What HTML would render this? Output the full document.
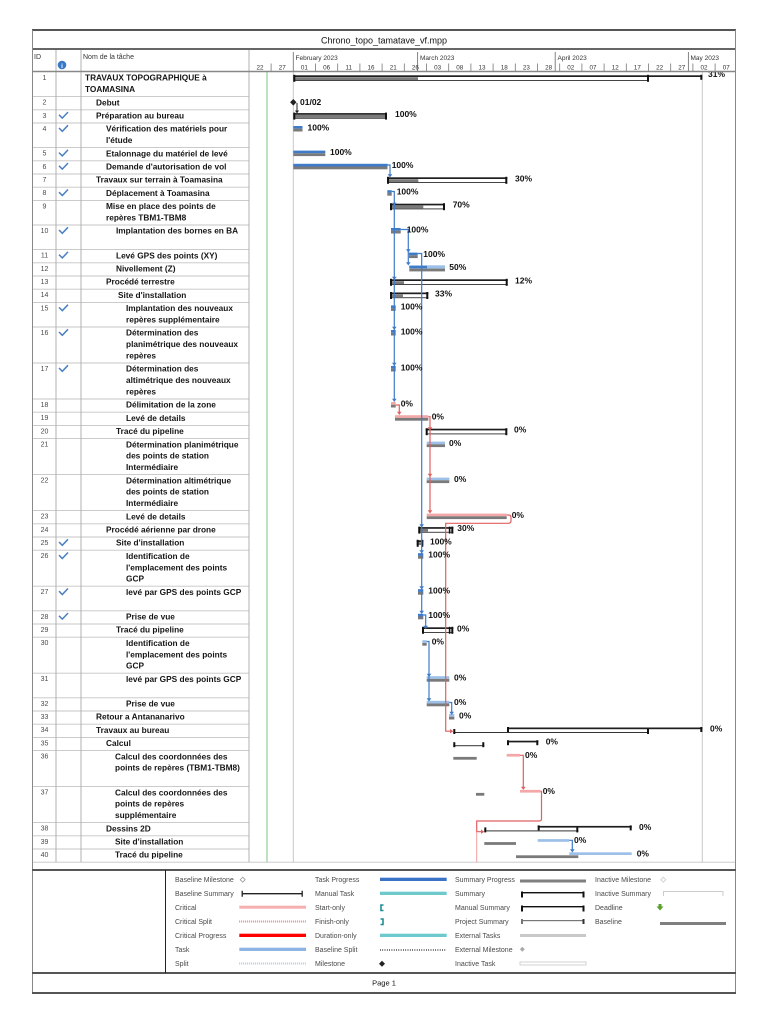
<!DOCTYPE html>
<html><head><meta charset="utf-8"><title>Chrono_topo_tamatave_vf.mpp</title>
<style>
html,body{margin:0;padding:0;background:#fff;}
svg{display:block;}
text{font-family:"Liberation Sans",Arial,sans-serif;}
.id{font-size:7px;fill:#4a4a4a;text-anchor:middle;}
.nm{font-size:8.3px;font-weight:bold;fill:#151515;}
.pc{font-size:8.5px;font-weight:bold;fill:#111;}
.lg{font-size:7px;fill:#4a4a4a;}
.dl{font-size:6.3px;fill:#333;text-anchor:middle;}
.ml{font-size:6.5px;fill:#333;}
</style></head>
<body>
<svg width="768" height="1024" viewBox="0 0 768 1024" xmlns="http://www.w3.org/2000/svg">
<rect width="768" height="1024" fill="#fff"/>

<!-- gantt vertical lines -->
<line x1="267" y1="72" x2="267" y2="862" stroke="#7cc47c" stroke-width="1"/>
<line x1="293.3" y1="72" x2="293.3" y2="862" stroke="#c8c8c8" stroke-width="1"/>
<line x1="702.3" y1="72" x2="702.3" y2="862" stroke="#c8c8c8" stroke-width="1"/>

<!-- table row separators -->
<path d="M33,96.6H249M33,109.8H249M33,123H249M33,147.6H249M33,160.8H249M33,174H249M33,187.2H249M33,200.4H249M33,225H249M33,249.6H249M33,262.8H249M33,276H249M33,289.2H249M33,302.4H249M33,327H249M33,363H249M33,399H249M33,412.2H249M33,425.4H249M33,438.6H249M33,474.6H249M33,510.6H249M33,523.8H249M33,537H249M33,550.2H249M33,586.2H249M33,610.8H249M33,624H249M33,637.2H249M33,673.2H249M33,697.8H249M33,711H249M33,724.2H249M33,737.4H249M33,750.6H249M33,786.6H249M33,822.6H249M33,835.8H249M33,849H249M33,862.2H735" stroke="#c4c4c4" stroke-width="0.9" fill="none"/>
<path d="M56,49V862M81,49V862M249,49V862" stroke="#b0b0b0" stroke-width="1" fill="none"/>

<!-- frame -->
<line x1="32" y1="30" x2="736" y2="30" stroke="#555" stroke-width="2"/>
<line x1="32" y1="49" x2="736" y2="49" stroke="#666" stroke-width="2"/>
<line x1="32.5" y1="30" x2="32.5" y2="993" stroke="#888" stroke-width="1"/>
<line x1="735.5" y1="30" x2="735.5" y2="993" stroke="#888" stroke-width="1"/>
<line x1="32" y1="870" x2="736" y2="870" stroke="#555" stroke-width="2"/>
<line x1="32" y1="973" x2="736" y2="973" stroke="#555" stroke-width="2"/>
<line x1="32" y1="993" x2="736" y2="993" stroke="#555" stroke-width="2"/>
<line x1="165.5" y1="870" x2="165.5" y2="973" stroke="#222" stroke-width="1"/>

<!-- title -->
<text x="384" y="43.5" font-size="9" text-anchor="middle" fill="#111">Chrono_topo_tamatave_vf.mpp</text>

<!-- header -->
<text x="34" y="59" font-size="7" fill="#333">ID</text>
<circle cx="62" cy="65" r="4.3" fill="#3778c7"/>
<text x="62" y="67.8" font-size="6.5" font-weight="bold" fill="#fff" text-anchor="middle">i</text>
<text x="83" y="59" font-size="7" fill="#333">Nom de la tâche</text>

<text class="ml" x="295.5" y="60">February 2023</text>
<text class="ml" x="420" y="60">March 2023</text>
<text class="ml" x="557.5" y="60">April 2023</text>
<text class="ml" x="690.5" y="60">May 2023</text>
<path d="M293.3,52V71M417.6,52V71M555.2,52V71M688.4,52V71" stroke="#777" stroke-width="0.9"/>
<path d="M271.1,63.5V71M315.5,63.5V71M337.7,63.5V71M359.9,63.5V71M382.1,63.5V71M404.3,63.5V71M426.5,63.5V71M448.7,63.5V71M470.9,63.5V71M493.1,63.5V71M515.3,63.5V71M537.5,63.5V71M559.7,63.5V71M581.9,63.5V71M604.1,63.5V71M626.3,63.5V71M648.5,63.5V71M670.7,63.5V71M692.9,63.5V71M715.1,63.5V71" stroke="#777" stroke-width="0.8"/>
<text class="dl" x="260" y="69.5">22</text>
<text class="dl" x="282.2" y="69.5">27</text>
<text class="dl" x="304.4" y="69.5">01</text>
<text class="dl" x="326.6" y="69.5">06</text>
<text class="dl" x="348.8" y="69.5">11</text>
<text class="dl" x="371" y="69.5">16</text>
<text class="dl" x="393.2" y="69.5">21</text>
<text class="dl" x="415.4" y="69.5">26</text>
<text class="dl" x="437.6" y="69.5">03</text>
<text class="dl" x="459.8" y="69.5">08</text>
<text class="dl" x="482" y="69.5">13</text>
<text class="dl" x="504.2" y="69.5">18</text>
<text class="dl" x="526.4" y="69.5">23</text>
<text class="dl" x="548.6" y="69.5">28</text>
<text class="dl" x="570.8" y="69.5">02</text>
<text class="dl" x="593" y="69.5">07</text>
<text class="dl" x="615.2" y="69.5">12</text>
<text class="dl" x="637.4" y="69.5">17</text>
<text class="dl" x="659.6" y="69.5">22</text>
<text class="dl" x="681.8" y="69.5">27</text>
<text class="dl" x="704" y="69.5">02</text>
<text class="dl" x="726.2" y="69.5">07</text>

<!-- IDs -->
<text class="id" x="44.5" y="80">1</text>
<text class="id" x="44.5" y="104.6">2</text>
<text class="id" x="44.5" y="117.8">3</text>
<text class="id" x="44.5" y="131">4</text>
<text class="id" x="44.5" y="155.6">5</text>
<text class="id" x="44.5" y="168.8">6</text>
<text class="id" x="44.5" y="182">7</text>
<text class="id" x="44.5" y="195.2">8</text>
<text class="id" x="44.5" y="208.4">9</text>
<text class="id" x="44.5" y="233">10</text>
<text class="id" x="44.5" y="257.6">11</text>
<text class="id" x="44.5" y="270.8">12</text>
<text class="id" x="44.5" y="284">13</text>
<text class="id" x="44.5" y="297.2">14</text>
<text class="id" x="44.5" y="310.4">15</text>
<text class="id" x="44.5" y="335">16</text>
<text class="id" x="44.5" y="371">17</text>
<text class="id" x="44.5" y="407">18</text>
<text class="id" x="44.5" y="420.2">19</text>
<text class="id" x="44.5" y="433.4">20</text>
<text class="id" x="44.5" y="446.6">21</text>
<text class="id" x="44.5" y="482.6">22</text>
<text class="id" x="44.5" y="518.6">23</text>
<text class="id" x="44.5" y="531.8">24</text>
<text class="id" x="44.5" y="545">25</text>
<text class="id" x="44.5" y="558.2">26</text>
<text class="id" x="44.5" y="594.2">27</text>
<text class="id" x="44.5" y="618.8">28</text>
<text class="id" x="44.5" y="632">29</text>
<text class="id" x="44.5" y="645.2">30</text>
<text class="id" x="44.5" y="681.2">31</text>
<text class="id" x="44.5" y="705.8">32</text>
<text class="id" x="44.5" y="719">33</text>
<text class="id" x="44.5" y="732.2">34</text>
<text class="id" x="44.5" y="745.4">35</text>
<text class="id" x="44.5" y="758.6">36</text>
<text class="id" x="44.5" y="794.6">37</text>
<text class="id" x="44.5" y="830.6">38</text>
<text class="id" x="44.5" y="843.8">39</text>
<text class="id" x="44.5" y="857">40</text>

<!-- check marks -->
<path d="M59,114.8L62.3,118.1L68,112.1M59,128L62.3,131.3L68,125.3M59,152.6L62.3,155.9L68,149.9M59,165.8L62.3,169.1L68,163.1M59,192.2L62.3,195.5L68,189.5M59,230L62.3,233.3L68,227.3M59,254.6L62.3,257.9L68,251.9M59,307.4L62.3,310.7L68,304.7M59,332L62.3,335.3L68,329.3M59,368L62.3,371.3L68,365.3M59,542L62.3,545.3L68,539.3M59,555.2L62.3,558.5L68,552.5M59,591.2L62.3,594.5L68,588.5M59,615.8L62.3,619.1L68,613.1" stroke="#4a7fc1" stroke-width="1.5" fill="none"/>

<!-- names -->
<text class="nm" x="85" y="80.7">TRAVAUX TOPOGRAPHIQUE à</text>
<text class="nm" x="85" y="92.1">TOAMASINA</text>
<text class="nm" x="96" y="105.3">Debut</text>
<text class="nm" x="96" y="118.5">Préparation au bureau</text>
<text class="nm" x="106" y="131.7">Vérification des matériels pour</text>
<text class="nm" x="106" y="143.1">l'étude</text>
<text class="nm" x="106" y="156.3">Etalonnage du matériel de levé</text>
<text class="nm" x="106" y="169.5">Demande d'autorisation de vol</text>
<text class="nm" x="96" y="182.7">Travaux sur terrain à Toamasina</text>
<text class="nm" x="106" y="195.9">Déplacement à Toamasina</text>
<text class="nm" x="106" y="209.1">Mise en place des points de</text>
<text class="nm" x="106" y="220.5">repères TBM1-TBM8</text>
<text class="nm" x="116" y="233.7">Implantation des bornes en BA</text>
<text class="nm" x="116" y="258.3">Levé GPS des points (XY)</text>
<text class="nm" x="116" y="271.5">Nivellement (Z)</text>
<text class="nm" x="106" y="284.7">Procédé terrestre</text>
<text class="nm" x="118" y="297.9">Site d'installation</text>
<text class="nm" x="126" y="311.1">Implantation des nouveaux</text>
<text class="nm" x="126" y="322.5">repères supplémentaire</text>
<text class="nm" x="126" y="335.7">Détermination des</text>
<text class="nm" x="126" y="347.1">planimétrique des nouveaux</text>
<text class="nm" x="126" y="358.5">repères</text>
<text class="nm" x="126" y="371.7">Détermination des</text>
<text class="nm" x="126" y="383.1">altimétrique des nouveaux</text>
<text class="nm" x="126" y="394.5">repères</text>
<text class="nm" x="126" y="407.7">Délimitation de la zone</text>
<text class="nm" x="126" y="420.9">Levé de details</text>
<text class="nm" x="116" y="434.1">Tracé du pipeline</text>
<text class="nm" x="126" y="447.3">Détermination planimétrique</text>
<text class="nm" x="126" y="458.7">des points de station</text>
<text class="nm" x="126" y="470.1">Intermédiaire</text>
<text class="nm" x="126" y="483.3">Détermination altimétrique</text>
<text class="nm" x="126" y="494.7">des points de station</text>
<text class="nm" x="126" y="506.1">Intermédiaire</text>
<text class="nm" x="126" y="519.3">Levé de details</text>
<text class="nm" x="106" y="532.5">Procédé aérienne par drone</text>
<text class="nm" x="116" y="545.7">Site d'installation</text>
<text class="nm" x="126" y="558.9">Identification de</text>
<text class="nm" x="126" y="570.3">l'emplacement des points</text>
<text class="nm" x="126" y="581.7">GCP</text>
<text class="nm" x="126" y="594.9">levé par GPS des points GCP</text>
<text class="nm" x="126" y="619.5">Prise de vue</text>
<text class="nm" x="116" y="632.7">Tracé du pipeline</text>
<text class="nm" x="126" y="645.9">Identification de</text>
<text class="nm" x="126" y="657.3">l'emplacement des points</text>
<text class="nm" x="126" y="668.7">GCP</text>
<text class="nm" x="126" y="681.9">levé par GPS des points GCP</text>
<text class="nm" x="126" y="706.5">Prise de vue</text>
<text class="nm" x="96" y="719.7">Retour a Antananarivo</text>
<text class="nm" x="96" y="732.9">Travaux au bureau</text>
<text class="nm" x="106" y="746.1">Calcul</text>
<text class="nm" x="115" y="759.3">Calcul des coordonnées des</text>
<text class="nm" x="115" y="770.7">points de repères (TBM1-TBM8)</text>
<text class="nm" x="115" y="795.3">Calcul des coordonnées des</text>
<text class="nm" x="115" y="806.7">points de repères</text>
<text class="nm" x="115" y="818.1">supplémentaire</text>
<text class="nm" x="106" y="831.3">Dessins  2D</text>
<text class="nm" x="115" y="844.5">Site d'installation</text>
<text class="nm" x="115" y="857.7">Tracé du pipeline</text>

<!-- ===== BARS ===== -->
<!-- row 1 -->
<rect x="293.3" y="75.3" width="408.7" height="1.7" fill="#1e1e1e"/>
<rect x="293.3" y="80" width="355.7" height="1" fill="#444"/>
<rect x="293.3" y="77.2" width="124.7" height="2.8" fill="#7a7a7a"/>
<rect x="293.3" y="74.8" width="2" height="7" fill="#111"/>
<rect x="647" y="74.8" width="2" height="7" fill="#111"/>
<rect x="700.3" y="74.8" width="2" height="5" fill="#111"/>
<!-- row 2 milestone -->
<polygon points="293.3,99 296.5,102.3 293.3,105.6 290.1,102.3" fill="#222"/>
<text class="pc" x="300" y="105">01/02</text>
<path d="M297,103V111" stroke="#222" stroke-width="1"/>
<polygon points="295,110.5 299,110.5 297,113.5" fill="#222"/>
<!-- row 3 -->
<rect x="293.3" y="113.1" width="93.7" height="1.7" fill="#1e1e1e"/>
<rect x="293.3" y="115" width="93.7" height="2.8" fill="#7a7a7a"/>
<rect x="293.3" y="117.8" width="93.7" height="1" fill="#444"/>
<rect x="293.3" y="112.6" width="2" height="7" fill="#111"/>
<rect x="385" y="112.6" width="2" height="7" fill="#111"/>
<!-- row 4,5,6 tasks done -->
<rect x="293.3" y="126" width="9.2" height="2.7" fill="#3e7bc8"/><rect x="293.3" y="128.7" width="9.2" height="2.8" fill="#7a7a7a"/>
<rect x="293.3" y="150.6" width="32" height="2.7" fill="#3e7bc8"/><rect x="293.3" y="153.3" width="32" height="2.8" fill="#7a7a7a"/>
<rect x="293.3" y="163.8" width="94.2" height="2.7" fill="#3e7bc8"/><rect x="293.3" y="166.5" width="94.2" height="2.8" fill="#7a7a7a"/>
<!-- row 7 -->
<rect x="387" y="177.3" width="120.3" height="1.7" fill="#1e1e1e"/>
<rect x="387" y="182" width="120.3" height="1" fill="#444"/>
<rect x="387" y="179.2" width="31.3" height="2.8" fill="#7a7a7a"/>
<rect x="387" y="176.8" width="2" height="7" fill="#111"/><rect x="505.3" y="176.8" width="2" height="7" fill="#111"/>
<!-- row 8 -->
<rect x="387.3" y="190.2" width="4.4" height="2.7" fill="#3e7bc8"/><rect x="387.3" y="192.9" width="4.4" height="2.8" fill="#7a7a7a"/>
<!-- row 9 -->
<rect x="390" y="203.7" width="55" height="1.7" fill="#1e1e1e"/>
<rect x="390" y="208.4" width="55" height="1" fill="#444"/>
<rect x="390" y="205.6" width="33.3" height="2.8" fill="#7a7a7a"/>
<rect x="390" y="203.2" width="2" height="7" fill="#111"/><rect x="443" y="203.2" width="2" height="7" fill="#111"/>
<!-- row 10 -->
<rect x="391" y="228" width="9.7" height="2.7" fill="#3e7bc8"/><rect x="391" y="230.7" width="9.7" height="2.8" fill="#7a7a7a"/>
<!-- row 11 -->
<rect x="409" y="252.6" width="8.7" height="2.7" fill="#3e7bc8"/><rect x="409" y="255.3" width="8.7" height="2.8" fill="#7a7a7a"/>
<!-- row 12 -->
<rect x="409.3" y="265.3" width="35.7" height="3.3" fill="#9dc0e8"/>
<rect x="409.3" y="265.8" width="17.7" height="2.5" fill="#3e7bc8"/>
<rect x="409.3" y="268.6" width="35.7" height="2.8" fill="#7a7a7a"/>
<!-- row 13 -->
<rect x="390" y="279.3" width="117.7" height="1.7" fill="#1e1e1e"/>
<rect x="390" y="284" width="117.7" height="1" fill="#444"/>
<rect x="390" y="281.2" width="14" height="2.8" fill="#7a7a7a"/>
<rect x="390" y="278.8" width="2" height="7" fill="#111"/><rect x="505.7" y="278.8" width="2" height="7" fill="#111"/>
<!-- row 14 -->
<rect x="390" y="292.5" width="38.3" height="1.7" fill="#1e1e1e"/>
<rect x="390" y="297.2" width="38.3" height="1" fill="#444"/>
<rect x="390" y="294.4" width="13" height="2.8" fill="#7a7a7a"/>
<rect x="390" y="292" width="2" height="7" fill="#111"/><rect x="426.3" y="292" width="2" height="7" fill="#111"/>
<!-- rows 15-17 -->
<rect x="391" y="305.4" width="4.7" height="2.7" fill="#3e7bc8"/><rect x="391" y="308.1" width="4.7" height="2.8" fill="#7a7a7a"/>
<rect x="391" y="330" width="4.7" height="2.7" fill="#3e7bc8"/><rect x="391" y="332.7" width="4.7" height="2.8" fill="#7a7a7a"/>
<rect x="391" y="366" width="4.7" height="2.7" fill="#3e7bc8"/><rect x="391" y="368.7" width="4.7" height="2.8" fill="#7a7a7a"/>
<!-- row 18 -->
<rect x="391" y="402" width="4.7" height="2.7" fill="#f4a7a7"/><rect x="391" y="404.7" width="4.7" height="2.8" fill="#7a7a7a"/>
<!-- row 19 -->
<rect x="395" y="415.2" width="33.3" height="2.7" fill="#f4a7a7"/><rect x="395" y="417.9" width="33.3" height="2.8" fill="#7a7a7a"/>
<!-- row 20 -->
<rect x="425.7" y="428.7" width="81.6" height="1.7" fill="#1e1e1e"/>
<rect x="425.7" y="433.4" width="81.6" height="1" fill="#444"/>
<rect x="425.7" y="428.2" width="2" height="7" fill="#111"/><rect x="505.3" y="428.2" width="2" height="7" fill="#111"/>
<!-- row 21, 22 -->
<rect x="426.7" y="441.6" width="18.3" height="2.7" fill="#9dc0e8"/><rect x="426.7" y="444.3" width="18.3" height="2.8" fill="#7a7a7a"/>
<rect x="426.7" y="477.6" width="22.6" height="2.7" fill="#9dc0e8"/><rect x="426.7" y="480.3" width="22.6" height="2.8" fill="#7a7a7a"/>
<!-- row 23 -->
<rect x="426.7" y="513.6" width="80" height="2.7" fill="#f4a7a7"/><rect x="426.7" y="516.3" width="80" height="2.8" fill="#7a7a7a"/>
<!-- row 24 -->
<rect x="418.3" y="527.1" width="35" height="1.7" fill="#1e1e1e"/>
<rect x="418.3" y="531.8" width="35" height="1" fill="#444"/>
<rect x="418.3" y="529" width="9.7" height="2.8" fill="#7a7a7a"/>
<rect x="418.3" y="526.6" width="2" height="7" fill="#111"/><rect x="448.8" y="526.6" width="1.6" height="7" fill="#111"/><rect x="451.3" y="526.6" width="2" height="7" fill="#111"/>
<!-- row 25 -->
<rect x="416.7" y="540.3" width="6.6" height="1.7" fill="#1e1e1e"/>
<rect x="416.7" y="542.2" width="6.6" height="2.8" fill="#7a7a7a"/>
<rect x="416.7" y="539.8" width="2" height="7" fill="#111"/><rect x="421.3" y="539.8" width="2" height="7" fill="#111"/>
<!-- rows 26-28 -->
<rect x="418" y="553.2" width="5.3" height="2.7" fill="#3e7bc8"/><rect x="418" y="555.9" width="5.3" height="2.8" fill="#7a7a7a"/>
<rect x="418" y="589.2" width="5.3" height="2.7" fill="#3e7bc8"/><rect x="418" y="591.9" width="5.3" height="2.8" fill="#7a7a7a"/>
<rect x="418" y="613.8" width="5.3" height="2.7" fill="#3e7bc8"/><rect x="418" y="616.5" width="5.3" height="2.8" fill="#7a7a7a"/>
<!-- row 29 -->
<rect x="422" y="627.3" width="31.3" height="1.7" fill="#1e1e1e"/>
<rect x="422" y="632" width="31.3" height="1" fill="#444"/>
<rect x="422" y="626.8" width="2" height="7" fill="#111"/><rect x="448.8" y="626.8" width="1.6" height="7" fill="#111"/><rect x="451.3" y="626.8" width="2" height="7" fill="#111"/>
<!-- rows 30-33 -->
<rect x="422.3" y="640.2" width="4.4" height="2.7" fill="#9dc0e8"/><rect x="422.3" y="642.9" width="4.4" height="2.8" fill="#7a7a7a"/>
<rect x="426.7" y="676.2" width="22.6" height="2.7" fill="#9dc0e8"/><rect x="426.7" y="678.9" width="22.6" height="2.8" fill="#7a7a7a"/>
<rect x="426.7" y="700.8" width="22.6" height="2.7" fill="#9dc0e8"/><rect x="426.7" y="703.5" width="22.6" height="2.8" fill="#7a7a7a"/>
<rect x="449" y="714" width="5.3" height="2.7" fill="#9dc0e8"/><rect x="449" y="716.7" width="5.3" height="2.8" fill="#7a7a7a"/>
<!-- row 34 -->
<rect x="507" y="727.5" width="195.3" height="1.7" fill="#1e1e1e"/>
<rect x="507" y="727" width="2" height="5" fill="#111"/><rect x="700.3" y="727" width="2" height="5" fill="#111"/>
<rect x="453.3" y="732" width="195.7" height="1" fill="#333"/>
<rect x="453.3" y="729" width="2" height="5" fill="#111"/><rect x="647" y="729" width="2" height="5" fill="#111"/>
<!-- row 35 -->
<rect x="507" y="740.7" width="31.3" height="1.7" fill="#1e1e1e"/>
<rect x="507" y="740.2" width="2" height="5" fill="#111"/><rect x="536.3" y="740.2" width="2" height="5" fill="#111"/>
<rect x="453.3" y="745.2" width="31" height="1" fill="#333"/>
<rect x="453.3" y="742.2" width="2" height="5" fill="#111"/><rect x="482.3" y="742.2" width="2" height="5" fill="#111"/>
<!-- row 36, 37 -->
<rect x="453.3" y="756.9" width="23.4" height="2.8" fill="#7a7a7a"/>
<rect x="506.7" y="753.9" width="13.3" height="2.7" fill="#f4a7a7"/>
<rect x="476" y="792.9" width="8.3" height="2.8" fill="#7a7a7a"/>
<rect x="520" y="789.9" width="20.7" height="2.7" fill="#f4a7a7"/>
<!-- row 38 -->
<rect x="537.7" y="825.9" width="94" height="1.7" fill="#1e1e1e"/>
<rect x="537.7" y="825.4" width="2" height="5" fill="#111"/><rect x="629.7" y="825.4" width="2" height="5" fill="#111"/>
<rect x="484.3" y="830.4" width="94" height="1" fill="#333"/>
<rect x="484.3" y="827.4" width="2" height="5" fill="#111"/><rect x="576.3" y="827.4" width="2" height="5" fill="#111"/>
<!-- row 39, 40 -->
<rect x="484.3" y="842.1" width="31.7" height="2.8" fill="#7a7a7a"/>
<rect x="537.7" y="839.1" width="31.6" height="2.7" fill="#9dc0e8"/>
<rect x="516" y="855.3" width="62.3" height="2.8" fill="#7a7a7a"/>
<rect x="569.3" y="852.3" width="62.4" height="2.7" fill="#9dc0e8"/>

<!-- ===== LINKS ===== -->
<g stroke="#3e7bc8" stroke-width="1.2" fill="none">
<path d="M387.5,165H390V175"/>
<path d="M391.7,191.5H394.3V400"/>
<path d="M400.7,229.5H408.3V263"/>
<path d="M417.7,253.5H421.7V612"/>
<path d="M423.3,615H425.7V627"/>
<path d="M426.7,641.5H429V699.5"/>
<path d="M449.3,702.5H451.7V713"/>
<path d="M569.3,840.3H572.3V850.5"/>
</g>
<g fill="#3e7bc8">
<polygon points="387.7,174.3 392.3,174.3 390,177.5"/>
<polygon points="392,202.8 396.6,202.8 394.3,206"/>
<polygon points="392,276.8 396.6,276.8 394.3,280"/>
<polygon points="392,326.8 396.6,326.8 394.3,330"/>
<polygon points="392,362.8 396.6,362.8 394.3,366"/>
<polygon points="392,398.8 396.6,398.8 394.3,402"/>
<polygon points="406,249.3 410.6,249.3 408.3,252.5"/>
<polygon points="406,262.3 410.6,262.3 408.3,265.5"/>
<polygon points="419.4,524.3 424,524.3 421.7,527.5"/>
<polygon points="419.4,550.3 424,550.3 421.7,553.5"/>
<polygon points="419.4,586.3 424,586.3 421.7,589.5"/>
<polygon points="419.4,610.8 424,610.8 421.7,614"/>
<polygon points="423.4,625.8 428,625.8 425.7,629"/>
<polygon points="426.7,673.8 431.3,673.8 429,677"/>
<polygon points="426.7,698.3 431.3,698.3 429,701.5"/>
<polygon points="449.4,711.8 454,711.8 451.7,715"/>
<polygon points="570,849.3 574.6,849.3 572.3,852.5"/>
</g>
<g stroke="#e06060" stroke-width="1.2" fill="none">
<path d="M395.7,405H399.3V412"/>
<path d="M428.3,416.7H430V511"/>
<path d="M506.7,515H509Q511,515 511,518V521Q511,523.3 508,523.3H445.7V731.2H450"/>
<path d="M520,755.3H523.3V787.5"/>
<path d="M540.7,791.3H541.5V819Q541.5,821 539,821H476.7V831.7H481"/>
</g>
<path d="M476.7,831.7V862" stroke="#f2a0a0" stroke-width="1" fill="none"/>
<g fill="#e06060">
<polygon points="397,411.8 401.6,411.8 399.3,415"/>
<polygon points="427.7,427.3 432.3,427.3 430,430.5"/>
<polygon points="427.7,473.8 432.3,473.8 430,477"/>
<polygon points="427.7,510.3 432.3,510.3 430,513.5"/>
<polygon points="521,786.8 525.6,786.8 523.3,790"/>
<polygon points="450,729 450,733.4 453.3,731.2"/>
<polygon points="481,829.5 481,833.9 484.3,831.7"/>
</g>

<!-- percent labels -->
<text class="pc" x="708" y="77">31%</text>
<text class="pc" x="395" y="117.1">100%</text>
<text class="pc" x="307.5" y="130.3">100%</text>
<text class="pc" x="330" y="154.9">100%</text>
<text class="pc" x="391.7" y="168.1">100%</text>
<text class="pc" x="515" y="181.3">30%</text>
<text class="pc" x="396.7" y="194.5">100%</text>
<text class="pc" x="452.7" y="207.7">70%</text>
<text class="pc" x="406.7" y="232.3">100%</text>
<text class="pc" x="423.3" y="256.9">100%</text>
<text class="pc" x="449.3" y="270.1">50%</text>
<text class="pc" x="515" y="283.3">12%</text>
<text class="pc" x="435" y="296.5">33%</text>
<text class="pc" x="400.7" y="309.7">100%</text>
<text class="pc" x="400.7" y="334.3">100%</text>
<text class="pc" x="400.7" y="370.3">100%</text>
<text class="pc" x="400.7" y="406.3">0%</text>
<text class="pc" x="431.7" y="419.5">0%</text>
<text class="pc" x="514" y="432.7">0%</text>
<text class="pc" x="449" y="445.9">0%</text>
<text class="pc" x="454" y="481.9">0%</text>
<text class="pc" x="511.7" y="517.9">0%</text>
<text class="pc" x="457.3" y="531.1">30%</text>
<text class="pc" x="430" y="544.3">100%</text>
<text class="pc" x="428.3" y="557.5">100%</text>
<text class="pc" x="428.3" y="593.5">100%</text>
<text class="pc" x="428.3" y="618.1">100%</text>
<text class="pc" x="457" y="631.3">0%</text>
<text class="pc" x="431.7" y="644.5">0%</text>
<text class="pc" x="454" y="680.5">0%</text>
<text class="pc" x="454" y="705.1">0%</text>
<text class="pc" x="459" y="718.3">0%</text>
<text class="pc" x="710" y="731.5">0%</text>
<text class="pc" x="545.7" y="744.7">0%</text>
<text class="pc" x="525" y="757.9">0%</text>
<text class="pc" x="542.7" y="793.9">0%</text>
<text class="pc" x="639" y="829.9">0%</text>
<text class="pc" x="574" y="843.1">0%</text>
<text class="pc" x="636.7" y="856.3">0%</text>

<!-- header bottom line over clipped label -->
<line x1="32" y1="71.5" x2="736" y2="71.5" stroke="#888" stroke-width="1.4"/>

<!-- ===== LEGEND ===== -->
<text class="lg" x="175" y="882">Baseline Milestone</text>
<text class="lg" x="175" y="896">Baseline Summary</text>
<text class="lg" x="175" y="910">Critical</text>
<text class="lg" x="175" y="924">Critical Split</text>
<text class="lg" x="175" y="938">Critical Progress</text>
<text class="lg" x="175" y="952">Task</text>
<text class="lg" x="175" y="966">Split</text>

<polygon points="242.7,877.2 245.2,879.7 242.7,882.2 240.2,879.7" fill="#fff" stroke="#999" stroke-width="0.8"/>
<path d="M241.7,893.7H302.7M242.2,890.7V896.7M302.2,890.7V896.7" stroke="#222" stroke-width="1.3"/>
<rect x="239.3" y="905.7" width="66.7" height="3" fill="#f4b0b0"/>
<line x1="239.3" y1="921.5" x2="306" y2="921.5" stroke="#e07070" stroke-width="2" stroke-dasharray="0.8,1.2"/>
<rect x="239.3" y="933.7" width="66.7" height="3.3" fill="#ff0000"/>
<rect x="239.3" y="947.7" width="66.7" height="3.3" fill="#8db4e2"/>
<line x1="239.3" y1="963.5" x2="306" y2="963.5" stroke="#a8bcd0" stroke-width="2" stroke-dasharray="0.8,1.2"/>

<text class="lg" x="315" y="882">Task Progress</text>
<text class="lg" x="315" y="896">Manual Task</text>
<text class="lg" x="315" y="910">Start-only</text>
<text class="lg" x="315" y="924">Finish-only</text>
<text class="lg" x="315" y="938">Duration-only</text>
<text class="lg" x="315" y="952">Baseline Split</text>
<text class="lg" x="315" y="966">Milestone</text>

<rect x="380" y="877.7" width="66.7" height="3.3" fill="#3a73c6"/>
<rect x="380" y="891.7" width="66.7" height="3.3" fill="#6ec9cc"/>
<path d="M383.5,905H381V910.5H383.5" stroke="#1f8f98" stroke-width="1.6" fill="none"/>
<path d="M380.5,919H383V924.5H380.5" stroke="#1f8f98" stroke-width="1.6" fill="none"/>
<rect x="380" y="933.7" width="66.7" height="3.3" fill="#6ec9cc"/>
<line x1="380" y1="950" x2="446.7" y2="950" stroke="#555" stroke-width="2" stroke-dasharray="0.8,1.5"/>
<polygon points="382,960.7 385,963.7 382,966.7 379,963.7" fill="#222"/>

<text class="lg" x="455" y="882">Summary Progress</text>
<text class="lg" x="455" y="896">Summary</text>
<text class="lg" x="455" y="910">Manual Summary</text>
<text class="lg" x="455" y="924">Project Summary</text>
<text class="lg" x="455" y="938">External Tasks</text>
<text class="lg" x="455" y="952">External Milestone</text>
<text class="lg" x="455" y="966">Inactive Task</text>

<rect x="520" y="879.5" width="66" height="3" fill="#7f7f7f"/>
<rect x="521" y="892" width="63" height="1.4" fill="#111"/>
<rect x="521" y="891.5" width="2" height="6" fill="#111"/><rect x="582.5" y="891.5" width="2" height="6" fill="#111"/>
<rect x="521" y="906" width="63" height="1.4" fill="#111"/>
<rect x="521" y="905.5" width="2" height="6" fill="#111"/><rect x="582.5" y="905.5" width="2" height="6" fill="#111"/>
<rect x="521" y="920" width="63" height="1.2" fill="#777"/>
<rect x="521" y="919" width="2" height="5" fill="#777"/><rect x="582.5" y="919" width="2" height="5" fill="#333"/>
<rect x="520" y="934" width="66" height="3" fill="#c8c8c8"/>
<polygon points="522.3,946.8 524.8,949.3 522.3,951.8 519.8,949.3" fill="#aaa"/>
<rect x="520" y="962" width="66" height="3" fill="#fff" stroke="#c8c8c8" stroke-width="0.8"/>

<text class="lg" x="595" y="882">Inactive Milestone</text>
<text class="lg" x="595" y="896">Inactive Summary</text>
<text class="lg" x="595" y="910">Deadline</text>
<text class="lg" x="595" y="924">Baseline</text>

<polygon points="663.3,877.2 665.8,879.7 663.3,882.2 660.8,879.7" fill="#fff" stroke="#ccc" stroke-width="0.8"/>
<path d="M663.5,896V891.5H723V896" stroke="#ccc" stroke-width="1" fill="none"/>
<polygon points="658.5,904 661.5,904 661.5,906.5 663.5,906.5 660,910.5 656.5,906.5 658.5,906.5" fill="#5aa02c"/>
<rect x="660" y="922" width="66" height="3" fill="#7f7f7f"/>

<!-- footer -->
<text x="384" y="985.5" font-size="7.5" text-anchor="middle" fill="#111">Page 1</text>
</svg>
</body></html>
